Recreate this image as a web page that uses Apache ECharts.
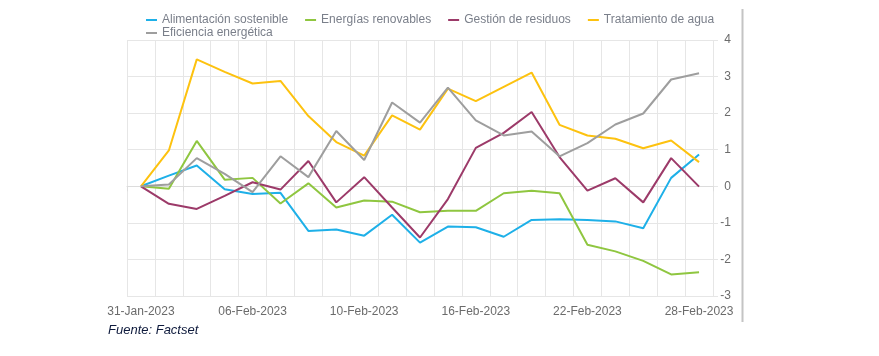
<!DOCTYPE html>
<html>
<head>
<meta charset="utf-8">
<script src="https://cdn.jsdelivr.net/npm/echarts@6/dist/echarts.min.js"></script>
<style>
html,body{margin:0;padding:0;background:#fff;}
#c{width:879px;height:356px;}
</style>
</head>
<body>
<div id="c"></div>
<script>
const categories = ['31-Jan-2023','01-Feb-2023','02-Feb-2023','03-Feb-2023','06-Feb-2023','07-Feb-2023','08-Feb-2023','09-Feb-2023','10-Feb-2023','13-Feb-2023','14-Feb-2023','15-Feb-2023','16-Feb-2023','17-Feb-2023','20-Feb-2023','21-Feb-2023','22-Feb-2023','23-Feb-2023','24-Feb-2023','27-Feb-2023','28-Feb-2023'];
const alimentacion = [0, 0.29, 0.57, -0.08, -0.21, -0.18, -1.22, -1.18, -1.35, -0.78, -1.54, -1.10, -1.12, -1.38, -0.92, -0.90, -0.92, -0.96, -1.15, 0.23, 0.87];
const energias = [0, -0.07, 1.24, 0.18, 0.23, -0.47, 0.08, -0.58, -0.39, -0.42, -0.71, -0.67, -0.67, -0.19, -0.12, -0.19, -1.60, -1.78, -2.04, -2.41, -2.35];
const residuos = [0, -0.48, -0.62, -0.26, 0.11, -0.09, 0.69, -0.44, 0.25, -0.58, -1.40, -0.35, 1.05, 1.46, 2.03, 0.80, -0.12, 0.22, -0.44, 0.77, -0.01];
const agua = [0, 0.98, 3.47, 3.13, 2.81, 2.88, 1.92, 1.21, 0.84, 1.94, 1.55, 2.67, 2.33, 2.72, 3.11, 1.68, 1.39, 1.30, 1.04, 1.25, 0.66];
const eficiencia = [0, 0.05, 0.77, 0.34, -0.16, 0.82, 0.25, 1.51, 0.72, 2.29, 1.74, 2.70, 1.80, 1.39, 1.50, 0.82, 1.18, 1.69, 1.99, 2.92, 3.09];
const yTicks = {min: -3, max: 4, interval: 1};

const names = ['Alimentación sostenible','Energías renovables','Gestión de residuos','Tratamiento de agua','Eficiencia energética'];
const colors = ['#1eb0e8','#8fc640','#9c3a69','#fdc20f','#9e9e9e'];
const values = [alimentacion, energias, residuos, agua, eficiencia];

const chart = echarts.init(document.getElementById('c'));
const legendCommon = {
  icon: 'rect', itemWidth: 11, itemHeight: 2, itemGap: 17,
  textStyle: {color: '#7a7f8a', fontSize: 12, fontFamily: 'Liberation Sans, Arial, sans-serif'},
  orient: 'horizontal', selectedMode: false, padding: 0
};
chart.setOption({
  animation: false,
  color: colors,
  legend: [
    Object.assign({left: 146, top: 14, data: names.slice(0,4)}, legendCommon),
    Object.assign({left: 146, top: 27, data: names.slice(4)}, legendCommon)
  ],
  grid: {left: 127, right: 166, top: 40, bottom: 60},
  xAxis: {
    type: 'category', data: categories, boundaryGap: true,
    axisLine: {lineStyle: {color: '#dcdcdc'}},
    axisTick: {show: true, length: 5, interval: 0, lineStyle: {color: '#dcdcdc'}},
    axisLabel: {interval: 3, color: '#6b6b6b', fontSize: 12, margin: 10, fontFamily: 'Liberation Sans, Arial, sans-serif'},
    splitLine: {show: true, interval: 0, lineStyle: {color: '#e6e6e6'}}
  },
  yAxis: {
    type: 'value', position: 'right', min: yTicks.min, max: yTicks.max, interval: yTicks.interval,
    axisLine: {show: false},
    axisTick: {show: true, length: 5, lineStyle: {color: '#e6e6e6'}},
    axisLabel: {color: '#6b6b6b', fontSize: 12, margin: 18, align: 'right', fontFamily: 'Liberation Sans, Arial, sans-serif'},
    splitLine: {show: true, lineStyle: {color: '#e6e6e6'}}
  },
  series: names.map((n, i) => ({
    name: n, type: 'line', data: values[i], showSymbol: false, symbol: 'none',
    lineStyle: {width: 2, color: colors[i]}, itemStyle: {color: colors[i]}
  })),
  graphic: [
    {type: 'text', left: 108, top: 324, style: {text: 'Fuente: Factset', font: 'italic 13px "Liberation Sans", Arial, sans-serif', fill: '#0e1a3c'}},
    {type: 'line', shape: {x1: 742.5, y1: 9, x2: 742.5, y2: 322}, style: {stroke: '#c4c4c4', lineWidth: 2}}
  ]
});
</script>
</body>
</html>
